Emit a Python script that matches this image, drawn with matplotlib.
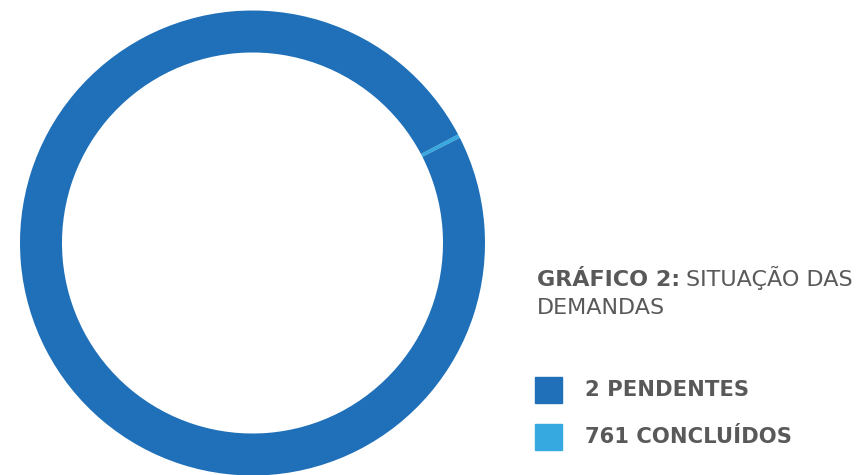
import matplotlib.pyplot as plt
from matplotlib.patches import Rectangle

# data
labels = ["2 PENDENTES", "761 CONCLUÍDOS"]
legend_colors = ["#1F70B8", "#36A9E1"]
ring_values = [2, 761]                      # thin light sliver + big dark ring, as drawn in the picture
ring_colors = ["#36A9E1", "#1F70B8"]

W, H = 861, 475
fig = plt.figure(figsize=(W / 100, H / 100), dpi=100)
plt.rcParams['font.family'] = ['DejaVu Sans']

# donut : centre (252.5, 243) px, outer radius 232.5 px
r_px = 232.5
cx, cy = 252.5, 243
ax = fig.add_axes([(cx - r_px) / W, (H - cy - r_px) / H, 2 * r_px / W, 2 * r_px / H])
ax.pie(ring_values, colors=ring_colors, startangle=26.9, counterclock=True,
       radius=1, wedgeprops=dict(width=42 / r_px, linewidth=0))
ax.set_xlim(-1, 1)
ax.set_ylim(-1, 1)
ax.set_aspect('equal')
ax.axis('off')

grey = "#595959"
def fx(x): return x / W
def fy(y): return 1 - y / H

# title
t1 = fig.text(fx(537), fy(286), "GRÁFICO 2:", fontsize=16, fontweight='bold', color=grey, va='baseline')
fig.canvas.draw()
bb = t1.get_window_extent()
fig.text(fx(bb.x1 + 6), fy(286), "SITUAÇÃO DAS", fontsize=16, color=grey, va='baseline')
fig.text(fx(537), fy(314), "DEMANDAS", fontsize=16, color=grey, va='baseline')

# legend
for i, (lab, col) in enumerate(zip(labels, legend_colors)):
    ytop = 377 + i * 47
    fig.patches.append(Rectangle((fx(535), fy(ytop + 26)), 27 / W, 26 / H,
                                 transform=fig.transFigure, color=col, figure=fig))
    fig.text(fx(585), fy(ytop + 13), lab, fontsize=15.2, fontweight='bold', color=grey, va='center')

fig.savefig("out.png", dpi=100)
